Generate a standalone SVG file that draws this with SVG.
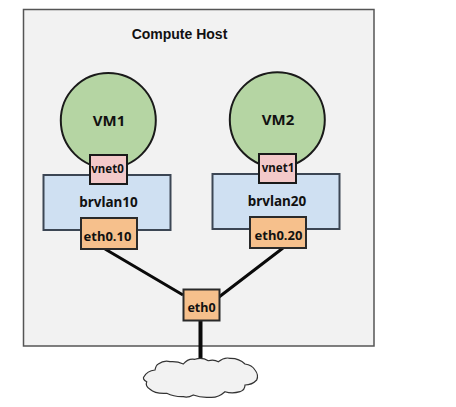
<svg xmlns="http://www.w3.org/2000/svg" width="456" height="407" viewBox="0 0 456 407">
<style>
text{font-family:"Noto Sans",sans-serif;font-weight:bold;fill:#111;text-anchor:middle}
.vm{fill:#b5d5a3;stroke:#1a1a1a;stroke-width:2}
.br{fill:#cfe0f2;stroke:#3c4654;stroke-width:2}
.vn{fill:#f3c9c9;stroke:#1a1a1a;stroke-width:2}
.et{fill:#f6c08c;stroke:#2a2a2a;stroke-width:2}
.ln{stroke:#0a0a0a;fill:none}
</style>
<rect width="456" height="407" fill="#fff"/>
<g id="host"><rect x="23.500" y="9.500" width="350.500" height="336.500" fill="#f2f2f2" stroke="#555" stroke-width="1.500"/>
<text x="179.500" y="39" style="font-family:'Liberation Sans',sans-serif;font-size:14px">Compute Host</text></g>
<g id="connectors">
<path class="ln" stroke-width="3" d="M105 249L183 295M283 248L219 297"/>
<path class="ln" stroke-width="4" d="M200.500 320V360"/>
</g>
<g id="vm1"><circle class="vm" cx="108.300" cy="120.500" r="47.500"/><text x="109" y="126" font-size="15">VM1</text></g>
<g id="vm2"><circle class="vm" cx="277.300" cy="119.700" r="47.500"/><text x="278" y="125" font-size="15">VM2</text></g>
<g id="brvlan10"><rect class="br" x="43.500" y="175" width="127" height="55"/><text x="108.500" y="207" font-size="13.500">brvlan10</text></g>
<g id="brvlan20"><rect class="br" x="212.500" y="174" width="127" height="55"/><text x="277" y="206" font-size="13.500">brvlan20</text></g>
<g id="vnet0"><rect class="vn" x="90" y="155" width="37" height="29"/><text x="107.500" y="173" font-size="11.500">vnet0</text></g>
<g id="vnet1"><rect class="vn" x="259" y="154" width="37" height="29"/><text x="278" y="172" font-size="11.500">vnet1</text></g>
<g id="eth0.10"><rect class="et" x="81" y="218" width="56" height="31"/><text x="107.500" y="241" font-size="13">eth0.10</text></g>
<g id="eth0.20"><rect class="et" x="250" y="217" width="56" height="31"/><text x="278.500" y="240" font-size="13">eth0.20</text></g>
<g id="eth0"><rect class="et" x="183.500" y="289.500" width="36" height="31"/><text x="201.500" y="312" font-size="12.500">eth0</text></g>
<g id="cloud"><path d="M155 370Q156 365 158.300 364Q164 360 170 361.700Q177 361 183.300 364Q188 358 195 359.300Q202 357 208.300 360.700Q214 359 218.300 361.700Q224 357 230 358.300Q239 358 245 364Q252 365 255 370Q259 375 256.700 380Q252 385 245 385Q245 390 240 391.700Q232 394 225 391.700Q218 398 210 397.300Q201 398 193.300 395Q188 398 183.300 396.700Q174 397 166.700 393.300Q155 394 150 389.300Q145 386 146.700 381.700Q142 379 144 376.700Q147 371 155 370Z" fill="#f2f2f2" stroke="#333" stroke-width="1.200"/></g>
</svg>
